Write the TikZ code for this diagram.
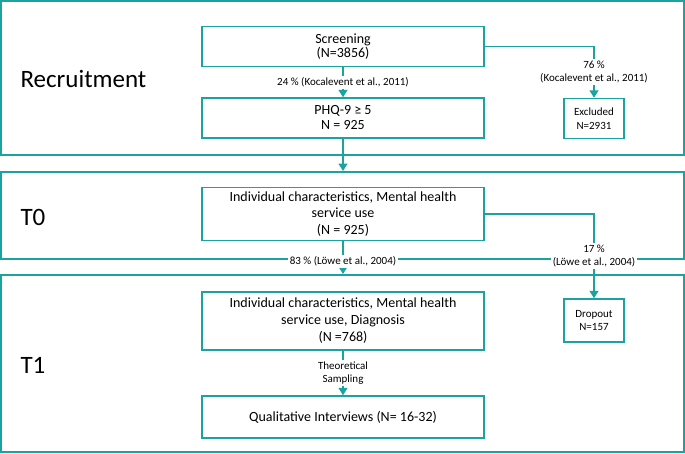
\documentclass[tikz,border=0pt]{standalone}
\usepackage{fontspec}
\setmainfont{Carlito}
\usetikzlibrary{arrows.meta,positioning}
\definecolor{mTeal}{RGB}{28,163,160}

\begin{document}
\begin{tikzpicture}[x=1pt, y=-1pt,
    frame/.style={draw=mTeal, line width=2pt, inner sep=0pt, minimum width=683pt},
    stagebox/.style={draw=mTeal, line width=1.5pt, inner sep=0pt, minimum width=282pt,
      align=center, font=\fontsize{14}{17}\selectfont},
    sidebox/.style={draw=mTeal, line width=1.5pt, inner sep=0pt, minimum width=60pt,
      minimum height=40pt, align=center, font=\fontsize{11}{13.5}\selectfont},
    phase/.style={anchor=west, font=\fontsize{25}{30}\selectfont},
    flow/.style={draw=mTeal, line width=1.5pt, -{Triangle[width=9pt,length=7.5pt]}},
    rate/.style={fill=white, inner sep=1.5pt, align=center, font=\fontsize{11}{13.5}\selectfont}]
    \useasboundingbox (0,0) rectangle (685,453);
    % Phase frames
    \node[frame, minimum height=154pt] (recruit) at (342.5,78) {};
    \node[frame, minimum height=87pt] (t0frame) at (342.5,215.5) {};
    \node[frame, minimum height=177pt] (t1frame) at (342.5,363.5) {};
    \node[phase] (recruitlabel) at (17,79) {Recruitment};
    \node[phase] (t0label) at (17,217) {T0};
    \node[phase] (t1label) at (17,365) {T1};
    % Recruitment
    \node[stagebox, minimum height=40pt, font=\fontsize{14}{14.5}\selectfont] (screen) at (343,46.5)
      {Screening\\(N=3856)};
    \node[stagebox, minimum height=40pt, font=\fontsize{14}{15}\selectfont] (phq) at (343,118)
      {PHQ-9 ≥ 5\\N = 925};
    \node[sidebox] (excl) at (594,118.5) {Excluded\\N=2931};
    \draw[flow] (screen) -- (phq) node[rate, midway] {24 \% (Kocalevent et al., 2011)};
    \draw[flow] (screen.east) -| (excl.north)
      node[rate, pos=0.75] {76 \%\\(Kocalevent et al., 2011)};
    \draw[flow] (phq) -- (phq |- t0frame.north);
    % T0
    \node[stagebox, minimum height=53pt, font=\fontsize{14}{16.5}\selectfont] (base) at (343,214)
      {Individual characteristics, Mental health\\service use\\(N = 925)};
    \draw[flow] (base) -- (base |- t1frame.north) node[rate, pos=0.62] {83 \% (Löwe et al., 2004)};
    % T1
    \node[stagebox, minimum height=58pt] (follow) at (343,321)
      {Individual characteristics, Mental health\\service use, Diagnosis\\(N =768)};
    \node[sidebox, minimum height=43pt] (drop) at (594,320.5) {Dropout\\N=157};
    \draw[flow] (base.east) -| (drop.north)
      node[rate, pos=0.75] {17 \%\\(Löwe et al., 2004)};
    \node[stagebox, minimum height=42pt] (qual) at (343,417) {Qualitative Interviews (N= 16-32)};
    \draw[flow] (follow) -- (qual) node[rate, midway] {Theoretical\\Sampling};
\end{tikzpicture}
\end{document}
